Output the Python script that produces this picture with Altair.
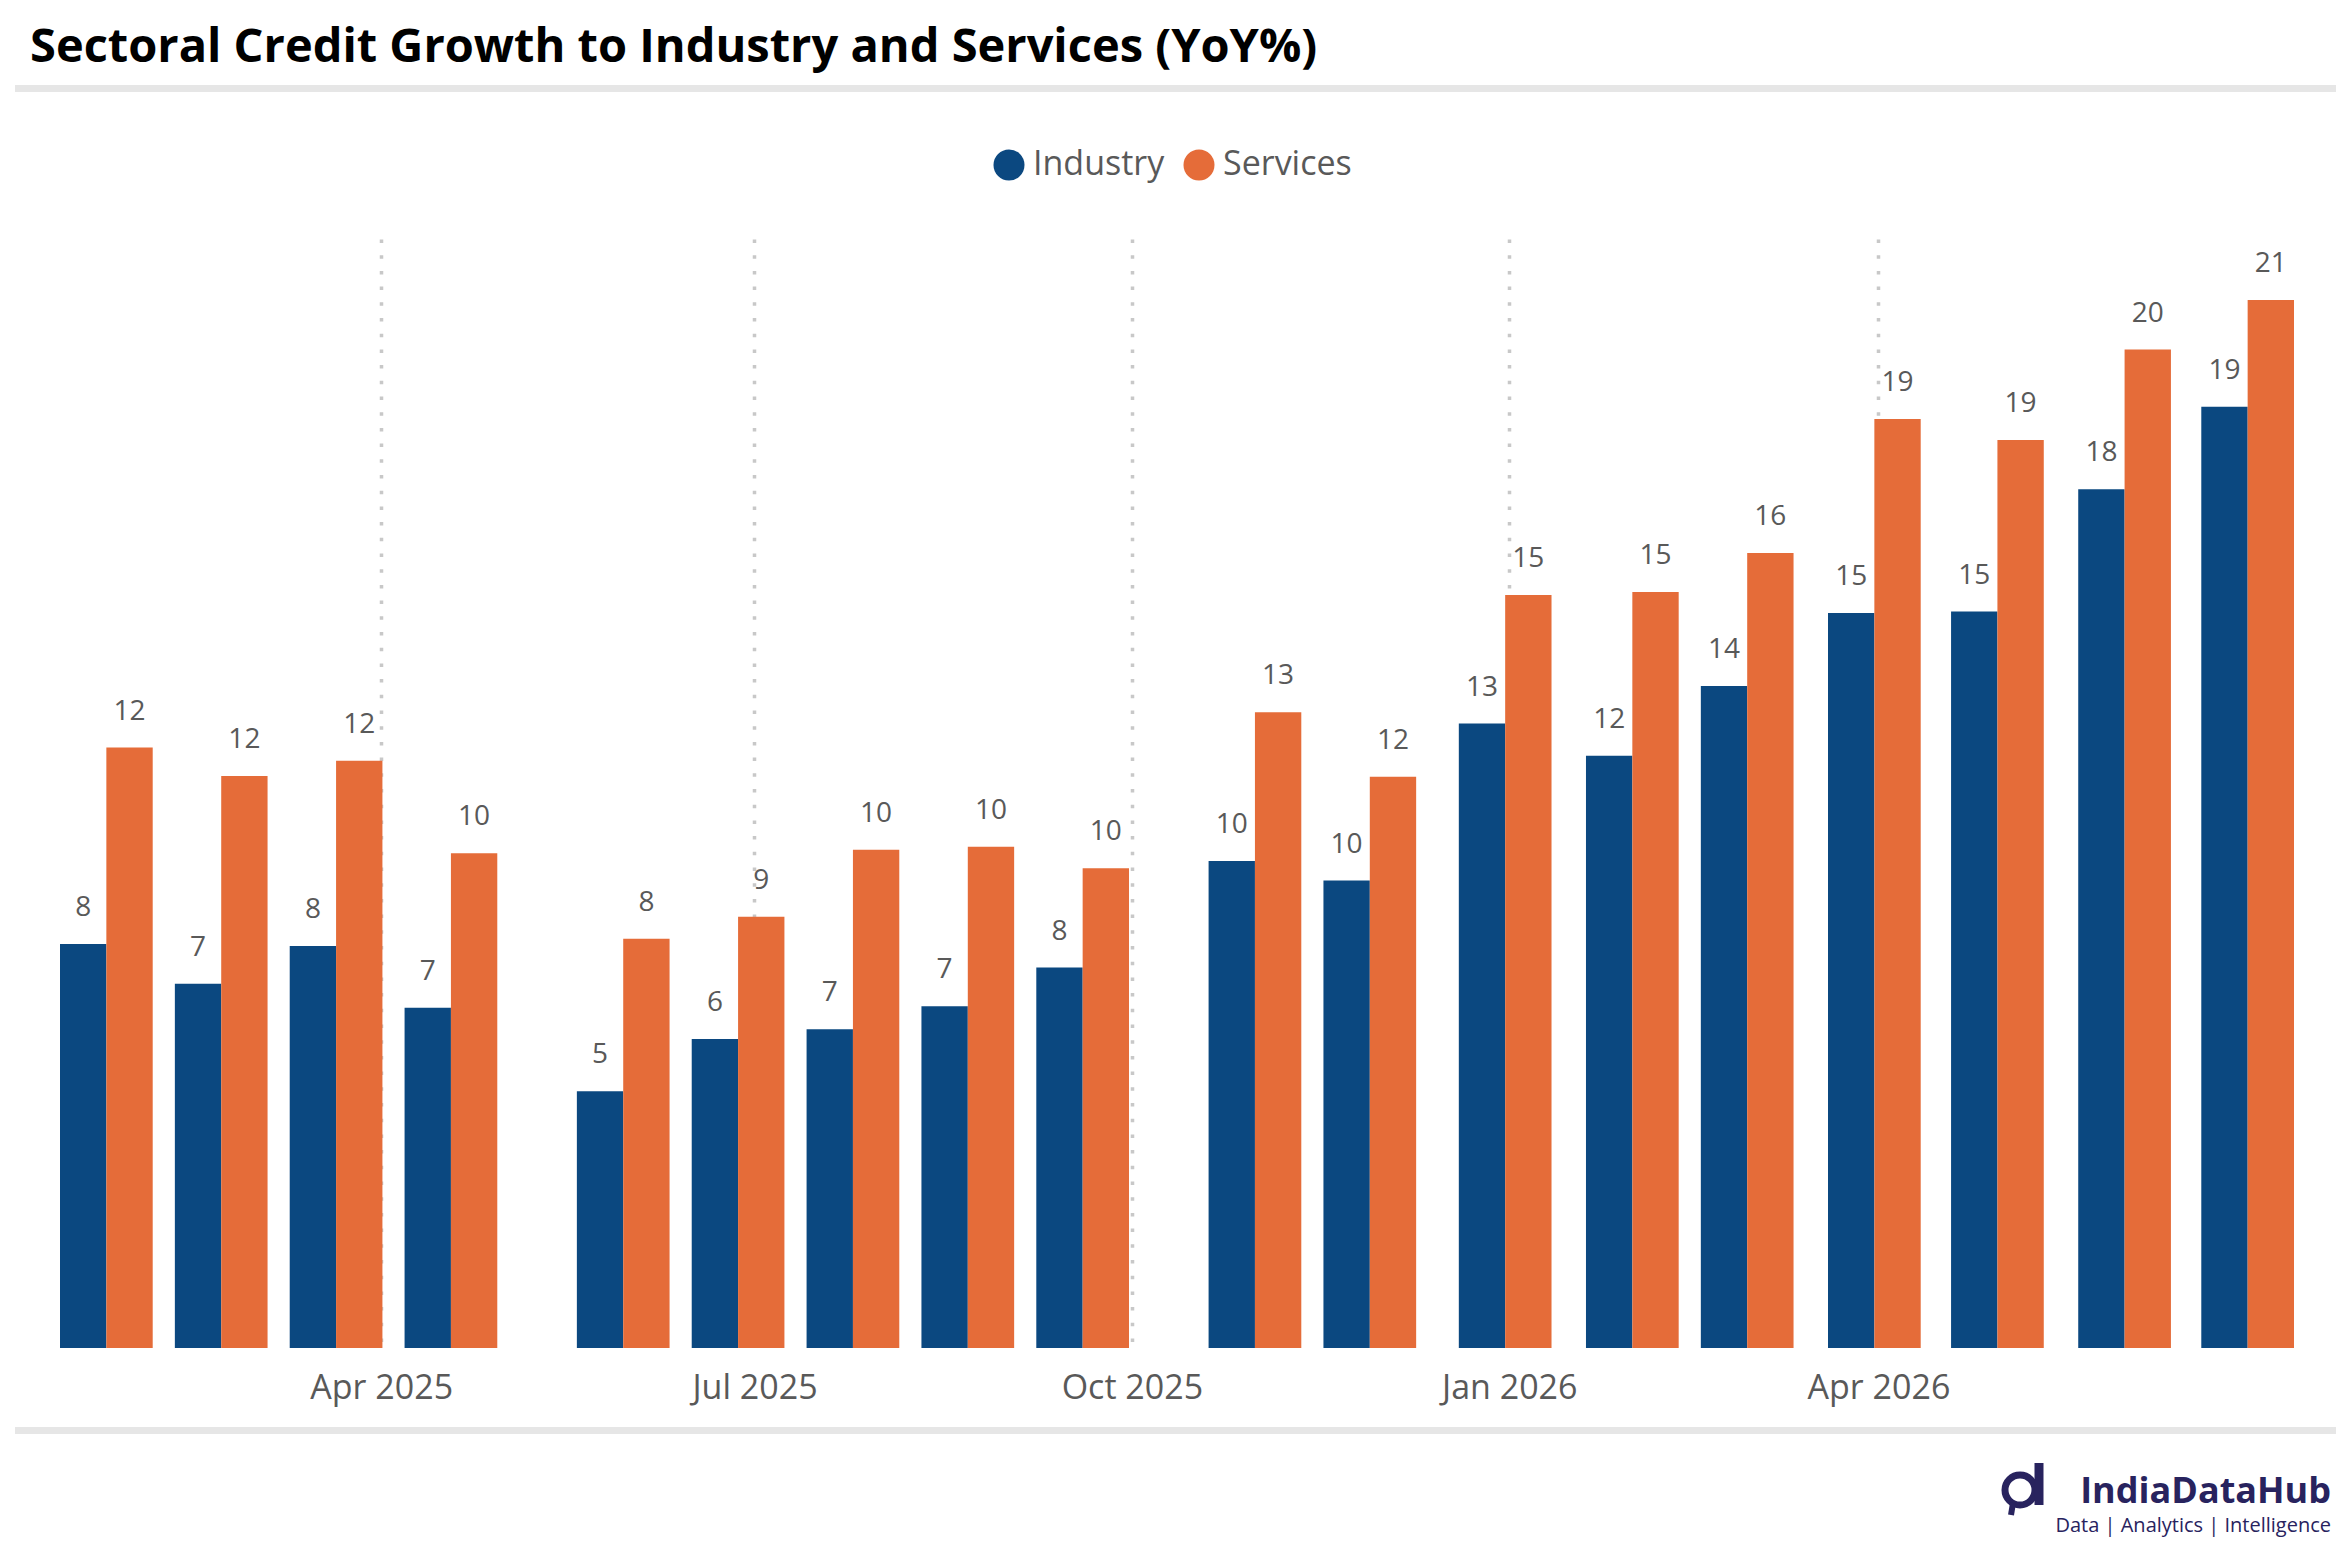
import altair as alt
import pandas as pd

# ---- data ----
dates = ["2025-01-24", "2025-02-21", "2025-03-21", "2025-04-18", "2025-05-30",
         "2025-06-27", "2025-07-25", "2025-08-22", "2025-09-19", "2025-10-31",
         "2025-11-28", "2025-12-31", "2026-01-31", "2026-02-28", "2026-03-31",
         "2026-04-30", "2026-05-31", "2026-06-30"]
industry = [8.26, 7.45, 8.22, 6.96, 5.25, 6.32, 6.52, 6.99, 7.78, 9.96,
            9.56, 12.77, 12.11, 13.54, 15.03, 15.06, 17.56, 19.25]
services = [12.28, 11.70, 12.01, 10.12, 8.37, 8.82, 10.19, 10.25, 9.81, 13.00,
            11.68, 15.40, 15.46, 16.26, 19.00, 18.57, 20.42, 21.43]
series = ["Industry", "Services"]
colors = ["#0B4880", "#E56C39"]
tick_months = [(2025, 4), (2025, 7), (2025, 10), (2026, 1), (2026, 4)]
title_text = "Sectoral Credit Growth to Industry and Services (YoY%)"
brand = "IndiaDataHub"
tagline = "Data | Analytics | Intelligence"

# ---- table ----
half = pd.Timedelta(days=11.3)
d = pd.to_datetime(dates)
rows = []
for dt, iv, sv in zip(d, industry, services):
    rows.append({"series": series[0], "start": dt - half, "end": dt, "value": iv})
    rows.append({"series": series[1], "start": dt, "end": dt + half, "value": sv})
df = pd.DataFrame(rows)
df["mid"] = df["start"] + (df["end"] - df["start"]) / 2


def to_dt(ts):
    return alt.DateTime(year=ts.year, month=ts.month, date=ts.day,
                        hours=ts.hour, minutes=ts.minute)


x_domain = [to_dt(d.min() - half), to_dt(d.max() + half)]
tick_vals = [alt.DateTime(year=y, month=m, date=1) for y, m in tick_months]

GREY = "#595959"
NAVY = "#28235E"
FONT = "Open Sans"

x_axis = alt.Axis(values=tick_vals, format="%b %Y", title=None, grid=True,
                  gridColor="#C8C8C8", gridDash=[3.5, 12.2], gridWidth=3.5,
                  domain=False, ticks=False, tickSize=0, labelFontSize=34,
                  labelFont=FONT, labelColor=GREY, labelBaseline="alphabetic",
                  labelPadding=50, labelOverlap=False, labelFlush=False)
x_scale = alt.Scale(domain=x_domain)
y_scale = alt.Scale(domain=[0, 22.68])

base = alt.Chart(df)

bars = base.mark_bar().encode(
    x=alt.X("start:T", scale=x_scale, axis=x_axis),
    x2="end:T",
    y=alt.Y("value:Q", scale=y_scale, axis=None),
    y2=alt.datum(0),
    color=alt.Color("series:N", scale=alt.Scale(domain=series, range=colors),
                    legend=alt.Legend(title=None, orient="none", legendX=932,
                                      legendY=-91, direction="horizontal",
                                      symbolType="circle", symbolSize=961,
                                      symbolStrokeWidth=0,
                                      labelFontSize=34, labelFont=FONT,
                                      labelColor=GREY, labelOffset=7,
                                      columnPadding=17)),
)

labels = base.mark_text(baseline="alphabetic", dy=-28, fontSize=28,
                        font=FONT, color=GREY).encode(
    x=alt.X("mid:T", scale=x_scale, axis=x_axis),
    y=alt.Y("value:Q", scale=y_scale, axis=None),
    text=alt.Text("value:Q", format=".0f"),
)

one = pd.DataFrame({"k": [0]})

sep_top = alt.Chart(one).mark_rule(color="#E6E6E6", strokeWidth=7).encode(
    x=alt.value(-45), x2=alt.value(2277), y=alt.value(-150.5))
sep_bot = alt.Chart(one).mark_rule(color="#E6E6E6", strokeWidth=7).encode(
    x=alt.value(-45), x2=alt.value(2277), y=alt.value(1191.5))

title = alt.Chart(pd.DataFrame({"t": [title_text]})).mark_text(
    align="left", baseline="alphabetic", fontSize=47, fontWeight="bold",
    font=FONT, color="#000000").encode(
    x=alt.value(-30), y=alt.value(-177), text="t:N")

brand_txt = alt.Chart(pd.DataFrame({"t": [brand]})).mark_text(
    align="right", baseline="alphabetic", fontSize=36, fontWeight="bold",
    font=FONT, color=NAVY).encode(
    x=alt.value(2271), y=alt.value(1264), text="t:N")

tag_txt = alt.Chart(pd.DataFrame({"t": [tagline]})).mark_text(
    align="right", baseline="alphabetic", fontSize=20,
    font=FONT, color=NAVY).encode(
    x=alt.value(2271), y=alt.value(1293), text="t:N")

ring = alt.Chart(one).mark_point(shape="circle", filled=False, size=900,
                                 strokeWidth=7, color=NAVY, opacity=1).encode(
    x=alt.value(1960), y=alt.value(1251))
stem = alt.Chart(one).mark_rule(color=NAVY, strokeWidth=9).encode(
    x=alt.value(1979), y=alt.value(1224), y2=alt.value(1266))
tail = alt.Chart(one).mark_rule(color=NAVY, strokeWidth=6).encode(
    x=alt.value(1953), x2=alt.value(1951), y=alt.value(1264), y2=alt.value(1276))

chart = alt.layer(bars, labels, sep_top, sep_bot, title, brand_txt, tag_txt,
                  ring, stem, tail).properties(
    width=2234, height=1109,
    autosize=alt.AutoSizeParams(type="none"),
    padding={"left": 52, "top": 231, "right": 42, "bottom": 192},
    background="white",
).configure_view(stroke=None)

chart.save("out.html", embed_options={"renderer": "svg", "actions": False})
